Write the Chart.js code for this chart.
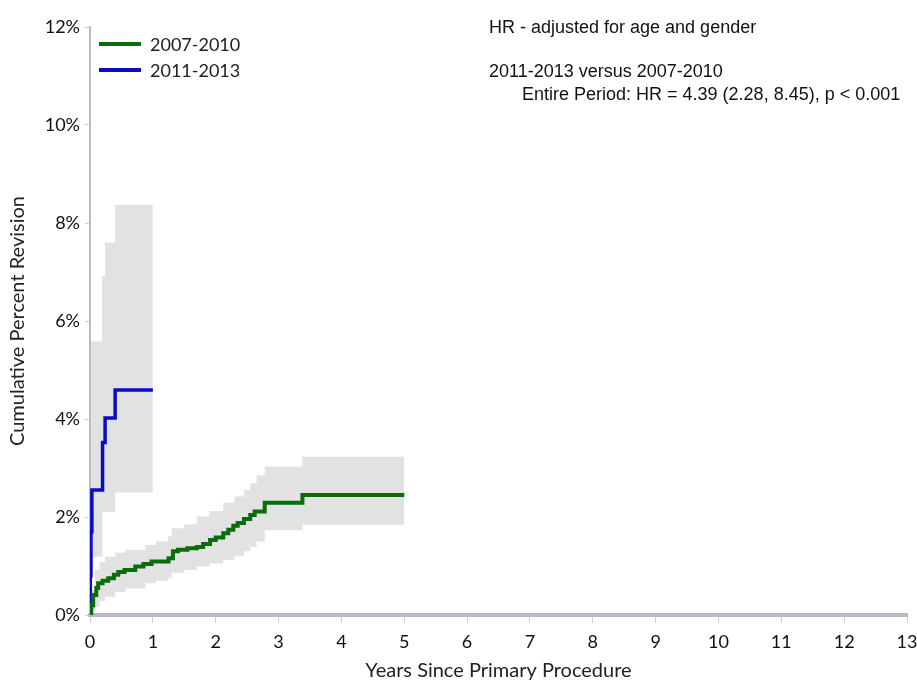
<!DOCTYPE html>
<html>
<head>
<meta charset="utf-8">
<script src="https://cdn.jsdelivr.net/npm/chart.js@4.4.1/dist/chart.umd.min.js"></script>
<style>
  html, body { margin: 0; padding: 0; background: #ffffff; }
  #wrap { width: 917px; height: 683px; }
</style>
</head>
<body>
<div id="wrap"><canvas id="kmChart" width="917" height="683"></canvas></div>
<script>
// Kaplan-Meier style cumulative revision, values in percent
// 2007-2010 curve
const greenTimes  = [0, 0.02, 0.05, 0.10, 0.13, 0.20, 0.29, 0.38, 0.45, 0.55, 0.72, 0.85, 0.98, 1.25, 1.32, 1.40, 1.55, 1.70, 1.80, 1.91, 2.00, 2.12, 2.20, 2.28, 2.35, 2.45, 2.55, 2.62, 2.78, 3.38, 5.00];
const greenValues = [0, 0.20, 0.41, 0.55, 0.65, 0.70, 0.75, 0.82, 0.88, 0.92, 0.99, 1.04, 1.09, 1.16, 1.30, 1.33, 1.36, 1.39, 1.45, 1.53, 1.58, 1.67, 1.74, 1.82, 1.88, 1.96, 2.04, 2.11, 2.29, 2.45, 2.45];

// 2007-2010 confidence band
const greenBandTimes = [0, 0.03, 0.08, 0.15, 0.24, 0.40, 0.56, 0.88, 1.05, 1.24, 1.30, 1.50, 1.70, 1.90, 2.12, 2.30, 2.45, 2.55, 2.65, 2.78, 3.38, 5.00];
const greenUpper     = [0, 0.50, 0.92, 1.08, 1.19, 1.27, 1.33, 1.43, 1.50, 1.60, 1.77, 1.85, 2.01, 2.12, 2.29, 2.42, 2.55, 2.69, 2.85, 3.03, 3.23, 3.23];
const greenLower     = [0, 0.08, 0.17, 0.28, 0.37, 0.47, 0.54, 0.65, 0.70, 0.75, 0.86, 0.92, 0.99, 1.05, 1.12, 1.20, 1.30, 1.39, 1.50, 1.73, 1.84, 1.84];

// 2011-2013 curve
const blueTimes  = [0, 0.005, 0.015, 0.03, 0.20, 0.24, 0.40, 1.00];
const blueValues = [0, 0.80, 1.70, 2.55, 3.52, 4.02, 4.59, 4.59];

// 2011-2013 confidence band
const blueBandTimes = [0, 0.02, 0.19, 0.20, 0.24, 0.40, 1.00];
const blueUpper     = [0, 5.58, 6.92, 6.92, 7.60, 8.37, 8.37];
const blueLower     = [0, 1.19, 1.19, 2.10, 2.10, 2.50, 2.50];

// axis ticks
const xTicks = [0, 1, 2, 3, 4, 5, 6, 7, 8, 9, 10, 11, 12, 13];
const yTicks = [0, 2, 4, 6, 8, 10, 12];

const seriesLabels = ['2007-2010', '2011-2013'];
const GREEN = '#0c6b0c';
const BLUE = '#0a0ac8';
const BAND = '#e2e2e2';
const AXIS = '#b9b9c8';
const LABEL_FONT = 'Lato, "Open Sans", sans-serif';
const NOTE_FONT = '"Liberation Sans", Arial, sans-serif';

function pts(xs, ys) {
    return xs.map((x, i) => ({ x: x, y: ys[i] }));
}

// legend + HR note drawn on top of the plot
const notesPlugin = {
    id: 'notes',
    afterDraw(chart) {
        const ctx = chart.ctx;
        ctx.save();
        const colors = [GREEN, BLUE];
        seriesLabels.forEach((lab, i) => {
            const y = 44 + i * 26;
            ctx.strokeStyle = colors[i];
            ctx.lineWidth = 4;
            ctx.beginPath();
            ctx.moveTo(99, y);
            ctx.lineTo(141, y);
            ctx.stroke();
            ctx.fillStyle = '#222222';
            ctx.font = '18px ' + LABEL_FONT;
            ctx.textBaseline = 'middle';
            ctx.textAlign = 'left';
            ctx.fillText(lab, 150, y + 1);
        });
        ctx.fillStyle = '#111111';
        ctx.font = '18px ' + NOTE_FONT;
        ctx.textBaseline = 'middle';
        ctx.fillText('HR - adjusted for age and gender', 489, 28);
        ctx.fillText('2011-2013 versus 2007-2010', 489, 72);
        ctx.fillText('Entire Period: HR = 4.39 (2.28, 8.45), p < 0.001', 522, 95);
        ctx.restore();
    }
};

function initChart() {
    const ctx = document.getElementById('kmChart').getContext('2d');
    new Chart(ctx, {
        type: 'line',
        data: {
            datasets: [
                { data: pts(greenTimes, greenValues), borderColor: GREEN, borderWidth: 4, stepped: true, fill: false, pointRadius: 0 },
                { data: pts(blueTimes, blueValues), borderColor: BLUE, borderWidth: 3.5, stepped: true, fill: false, pointRadius: 0 },
                { data: pts(greenBandTimes, greenUpper), borderWidth: 0, borderColor: BAND, backgroundColor: BAND, stepped: true, fill: '+1', pointRadius: 0 },
                { data: pts(greenBandTimes, greenLower), borderWidth: 0, borderColor: BAND, stepped: true, fill: false, pointRadius: 0 },
                { data: pts(blueBandTimes, blueUpper), borderWidth: 0, borderColor: BAND, backgroundColor: BAND, stepped: true, fill: '+1', pointRadius: 0 },
                { data: pts(blueBandTimes, blueLower), borderWidth: 0, borderColor: BAND, stepped: true, fill: false, pointRadius: 0 }
            ]
        },
        options: {
            responsive: false,
            animation: false,
            layout: { autoPadding: false, padding: { top: 27, right: 10, left: 0, bottom: 0 } },
            plugins: {
                legend: { display: false },
                tooltip: { enabled: false }
            },
            scales: {
                x: {
                    type: 'linear',
                    min: 0,
                    max: 13,
                    afterFit: s => { s.height = 68; s.paddingRight = 0; s.paddingLeft = 0; },
                    afterBuildTicks: s => { s.ticks = xTicks.map(v => ({ value: v })); },
                    border: { color: AXIS, width: 4 },
                    grid: { drawOnChartArea: false, drawTicks: true, tickLength: 8, color: '#cfcfd8', tickWidth: 1 },
                    ticks: { color: '#111111', font: { family: LABEL_FONT, size: 18 }, padding: 8, maxRotation: 0 },
                    title: { display: true, text: 'Years Since Primary Procedure', color: '#222222', font: { family: LABEL_FONT, size: 20 }, padding: { top: 0, bottom: 0 } }
                },
                y: {
                    min: 0,
                    max: 12,
                    afterFit: s => { s.width = 90; s.paddingTop = 0; s.paddingBottom = 0; },
                    afterBuildTicks: s => { s.ticks = yTicks.map(v => ({ value: v })); },
                    border: { color: AXIS, width: 2 },
                    grid: { drawOnChartArea: false, drawTicks: true, tickLength: 5, color: '#cfcfd8' },
                    ticks: { color: '#111111', font: { family: LABEL_FONT, size: 18 }, padding: 5, callback: v => v + '%' },
                    title: { display: true, text: 'Cumulative Percent Revision', color: '#222222', font: { family: LABEL_FONT, size: 20 }, padding: { top: 6, bottom: 0 } }
                }
            }
        },
        plugins: [notesPlugin]
    });
}

document.addEventListener('DOMContentLoaded', function() {
    initChart();
});
</script>
</body>
</html>
